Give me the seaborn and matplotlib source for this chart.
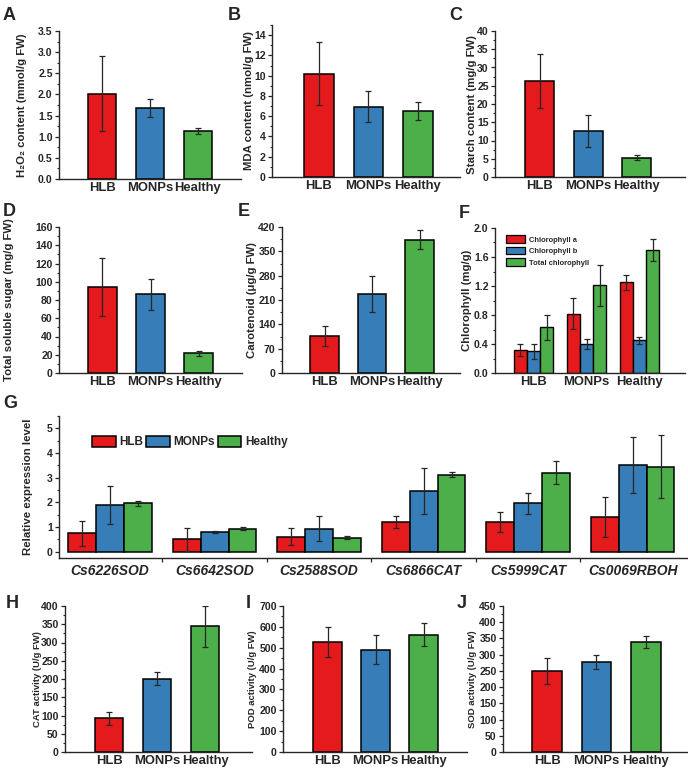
import matplotlib
matplotlib.use('Agg')
import matplotlib.pyplot as plt
from matplotlib.ticker import MultipleLocator, AutoMinorLocator, FixedLocator
from matplotlib.patches import Patch
import seaborn as sns
import pandas as pd

# data (mean, sd)
groups = ['HLB', 'MONPs', 'Healthy']

h2o2_mean = [2.02, 1.68, 1.13]
h2o2_sd = [0.89, 0.22, 0.07]
mda_mean = [10.2, 6.95, 6.55]
mda_sd = [3.1, 1.55, 0.9]
starch_mean = [26.3, 12.6, 5.3]
starch_sd = [7.3, 4.5, 0.6]
sugar_mean = [94, 86.5, 21.5]
sugar_sd = [31.5, 17, 3]
carot_mean = [107, 228, 384]
carot_sd = [29, 52, 27]

chl_series = ['Chlorophyll a', 'Chlorophyll b', 'Total chlorophyll']
chla_mean = [0.32, 0.82, 1.25]
chla_sd = [0.08, 0.21, 0.10]
chlb_mean = [0.30, 0.40, 0.45]
chlb_sd = [0.10, 0.07, 0.05]
chlt_mean = [0.63, 1.21, 1.70]
chlt_sd = [0.17, 0.28, 0.15]

genes = ['Cs6226SOD', 'Cs6642SOD', 'Cs2588SOD', 'Cs6866CAT', 'Cs5999CAT', 'Cs0069RBOH']
gene_hlb = [0.75, 0.50, 0.61, 1.21, 1.22, 1.41]
gene_hlb_sd = [0.50, 0.47, 0.35, 0.24, 0.40, 0.81]
gene_monps = [1.89, 0.80, 0.94, 2.45, 1.97, 3.53]
gene_monps_sd = [0.76, 0.05, 0.51, 0.93, 0.43, 1.13]
gene_healthy = [1.97, 0.94, 0.58, 3.13, 3.21, 3.45]
gene_healthy_sd = [0.10, 0.05, 0.07, 0.12, 0.45, 1.28]

cat_mean = [92, 201, 344]
cat_sd = [17, 18, 56]
pod_mean = [527, 491, 563]
pod_sd = [71, 69, 55]
sod_mean = [251, 278, 340]
sod_sd = [40, 21, 18]

sns.set_style('ticks')
plt.rcParams['font.family'] = ['Liberation Sans', 'DejaVu Sans']
plt.rcParams['font.weight'] = 'bold'
plt.rcParams['axes.labelweight'] = 'bold'
plt.rcParams['axes.linewidth'] = 1.0

colors = sns.color_palette('Set1', 3)
ERR = '#262626'

W, H = 688, 773
fig = plt.figure(figsize=(W / 100, H / 100), dpi=100)


def add_ax(left, right, top, bottom):
    return fig.add_axes([left / W, 1 - bottom / H, (right - left) / W, (bottom - top) / H])


def style_y(ax, ylim, major, ylabel, label_right, box, label_size=8.2, tick_size=7.6):
    ax.set_ylim(*ylim)
    ax.yaxis.set_major_locator(MultipleLocator(major))
    ax.yaxis.set_minor_locator(AutoMinorLocator(2))
    ax.tick_params(axis='y', which='major', length=3, width=0.9, pad=1.5, labelsize=tick_size)
    ax.tick_params(axis='y', which='minor', length=1.8, width=0.8)
    ax.set_ylabel(ylabel, fontsize=label_size, fontweight='bold')
    left, right = box[0], box[1]
    ax.yaxis.set_label_coords((label_right - left) / (right - left), 0.5)
    sns.despine(ax=ax)
    for lbl in ax.get_yticklabels():
        lbl.set_fontweight('bold')


def letter(ch, x, y):
    fig.text(x / W, 1 - y / H, ch, fontsize=13, fontweight='bold', va='top', ha='left')


def simple_panel(box, means, sds, ylim, major, ylabel, label_right, xlim, label_size=8.2):
    ax = add_ax(*box)
    sns.barplot(x=groups, y=means, hue=groups, palette=colors, width=0.6, saturation=1,
                edgecolor='black', linewidth=1.1, errorbar=None, legend=False, ax=ax)
    ax.errorbar(range(3), means, yerr=sds, fmt='none', ecolor=ERR, elinewidth=0.9,
                capsize=2, capthick=0.9, zorder=5)
    ax.set_xlim(*xlim)
    ax.set_xlabel('')
    ax.tick_params(axis='x', length=0, pad=2.5, labelsize=9.4)
    for lbl in ax.get_xticklabels():
        lbl.set_fontweight('bold')
    style_y(ax, ylim, major, ylabel, label_right, box, label_size)
    return ax


# row 1
simple_panel((59, 241, 31, 179), h2o2_mean, h2o2_sd, (0, 3.5), 0.5,
             'H\u2082O\u2082 content (mmol/g FW)', 27, (-0.9, 2.9))
simple_panel((272, 460, 25, 177), mda_mean, mda_sd, (0, 15), 2,
             'MDA content (nmol/g FW)', 254, (-0.95, 2.85))
simple_panel((495, 685, 31, 177), starch_mean, starch_sd, (0, 40), 5,
             'Starch content (mg/g FW)', 477, (-0.92, 3.0))
letter('A', 3, 7)
letter('B', 228, 7)
letter('C', 449, 7)

# row 2
simple_panel((59, 242, 227, 373), sugar_mean, sugar_sd, (0, 160), 20,
             'Total soluble sugar (mg/g FW)', 14, (-0.9, 2.9))
simple_panel((282, 460, 227, 373), carot_mean, carot_sd, (0, 420), 70,
             'Carotenoid (\u03bcg/g FW)', 257, (-0.9, 2.85))

# F: chlorophyll grouped bars
box_f = (495, 685, 228, 373)
ax = add_ax(*box_f)
chl_df = pd.DataFrame({
    'group': groups * 3,
    'series': [chl_series[0]] * 3 + [chl_series[1]] * 3 + [chl_series[2]] * 3,
    'value': chla_mean + chlb_mean + chlt_mean,
})
sns.barplot(data=chl_df, x='group', y='value', hue='series', palette=colors, width=0.75,
            saturation=1, edgecolor='black', linewidth=1.0, errorbar=None, legend=False, ax=ax)
for cont, m, s in zip(ax.containers, [chla_mean, chlb_mean, chlt_mean], [chla_sd, chlb_sd, chlt_sd]):
    xs = [p.get_x() + p.get_width() / 2 for p in cont]
    ax.errorbar(xs, m, yerr=s, fmt='none', ecolor=ERR, elinewidth=0.9, capsize=2,
                capthick=0.9, zorder=5)
ax.set_xlim(-0.73, 2.86)
ax.set_xlabel('')
ax.tick_params(axis='x', length=0, pad=2.5, labelsize=9.4)
for lbl in ax.get_xticklabels():
    lbl.set_fontweight('bold')
style_y(ax, (0, 2.0), 0.4, 'Chlorophyll (mg/g)', 472, box_f)
handles = [Patch(facecolor=c, edgecolor='black', linewidth=0.9) for c in colors]
ax.legend(handles, chl_series, loc='upper left', bbox_to_anchor=(0.04, 0.97), frameon=False,
          handlelength=2.6, handleheight=1.1, labelspacing=0.45,
          handletextpad=0.5, borderaxespad=0, prop={'weight': 'bold', 'size': 5.4})
letter('D', 3, 203)
letter('E', 238, 203)
letter('F', 459, 205)

# G: gene expression
box_g = (59, 687, 416, 558)
ax = add_ax(*box_g)
gene_df = pd.DataFrame({
    'gene': genes * 3,
    'group': [groups[0]] * 6 + [groups[1]] * 6 + [groups[2]] * 6,
    'value': gene_hlb + gene_monps + gene_healthy,
})
sns.barplot(data=gene_df, x='gene', y='value', hue='group', palette=colors, width=0.8,
            saturation=1, edgecolor='black', linewidth=1.1, errorbar=None, legend=False, ax=ax)
for cont, m, s in zip(ax.containers, [gene_hlb, gene_monps, gene_healthy],
                      [gene_hlb_sd, gene_monps_sd, gene_healthy_sd]):
    xs = [p.get_x() + p.get_width() / 2 for p in cont]
    ax.errorbar(xs, m, yerr=s, fmt='none', ecolor=ERR, elinewidth=0.9, capsize=2,
                capthick=0.9, zorder=5)
ax.set_xlim(-0.49, 5.52)
ax.set_xlabel('')
ax.xaxis.set_minor_locator(FixedLocator([i + 0.5 for i in range(len(genes) - 1)]))
ax.tick_params(axis='x', which='major', length=0, pad=4, labelsize=10)
ax.tick_params(axis='x', which='minor', length=3, width=0.9, direction='out')
for lbl in ax.get_xticklabels():
    lbl.set_fontweight('bold')
    lbl.set_fontstyle('italic')
style_y(ax, (-0.25, 5.5), 1, 'Relative expression level', 33, box_g)
ax.yaxis.set_minor_locator(MultipleLocator(0.5))
ax.tick_params(axis='x', which='minor', length=3)
handles = [Patch(facecolor=c, edgecolor='black', linewidth=1.1) for c in colors]
ax.legend(handles, groups, loc='center left', bbox_to_anchor=(0.045, 0.815), ncol=3,
          frameon=False, handlelength=2.0, handleheight=1.0, handletextpad=0.3,
          columnspacing=0.25, borderaxespad=0, prop={'weight': 'bold', 'size': 8.5})
letter('G', 3, 395)

# row 4
simple_panel((65, 252, 606, 752), cat_mean, cat_sd, (0, 400), 50,
             'CAT activity (U/g FW)', 42, (-0.92, 2.98), label_size=6.8)
simple_panel((283, 467, 606, 752), pod_mean, pod_sd, (0, 700), 100,
             'POD activity (U/g FW)', 257, (-0.93, 2.9), label_size=6.8)
simple_panel((503, 688, 606, 752), sod_mean, sod_sd, (0, 450), 50,
             'SOD activity (U/g FW)', 477, (-0.89, 2.85), label_size=6.8)
letter('H', 6, 595)
letter('I', 246, 595)
letter('J', 457, 595)

fig.savefig('out.png', dpi=100)
